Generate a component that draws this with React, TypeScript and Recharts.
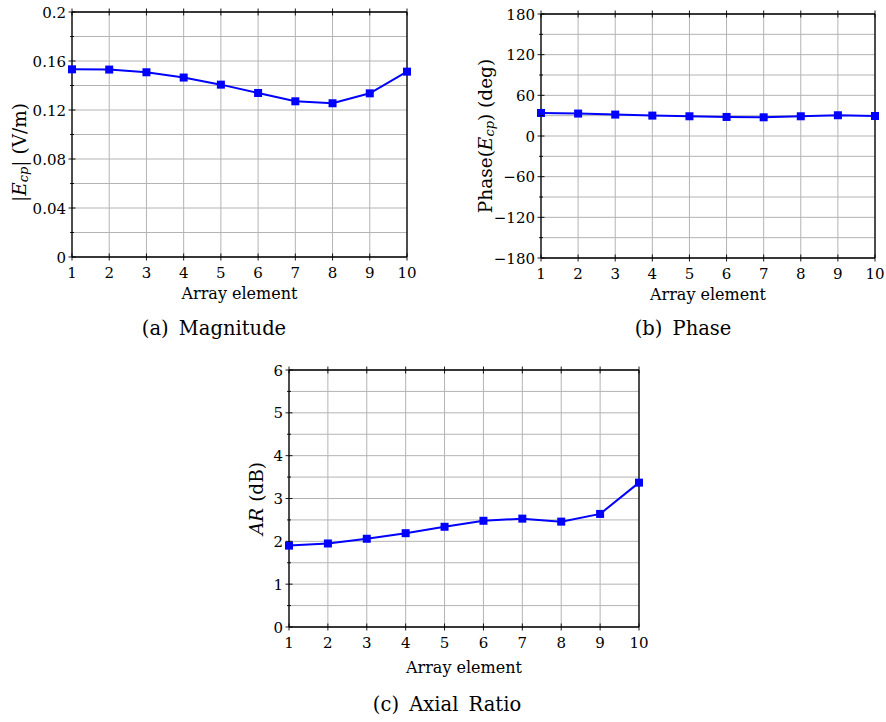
import React from 'react';
import { LineChart, Line, XAxis, YAxis, CartesianGrid } from 'recharts';

// ---------- data ----------
const elements = [1, 2, 3, 4, 5, 6, 7, 8, 9, 10];
const magnitude = [0.1532, 0.153, 0.1508, 0.1465, 0.1407, 0.1339, 0.1271, 0.1255, 0.1336, 0.1513];
const phase = [34.0, 33.1, 31.6, 30.1, 29.1, 28.1, 27.6, 29.1, 30.6, 29.5];
const axialRatio = [1.9, 1.95, 2.06, 2.19, 2.34, 2.48, 2.53, 2.46, 2.64, 3.37];

const magMajorTicks = [0, 0.04, 0.08, 0.12, 0.16, 0.2];
const magMinorTicks = [0.02, 0.06, 0.1, 0.14, 0.18];
const phaseMajorTicks = [-180, -120, -60, 0, 60, 120, 180];
const phaseMinorTicks = [-150, -90, -30, 30, 90, 150];
const arMajorTicks = [0, 1, 2, 3, 4, 5, 6];
const arMinorTicks = [0.5, 1.5, 2.5, 3.5, 4.5, 5.5];

const xAxisTitle = 'Array element';
const captions = ['(a) Magnitude', '(b) Phase', '(c) Axial Ratio'];

const tableData = elements.map((e, i) => ({
  element: e,
  magnitude: magnitude[i],
  phase: phase[i],
  axialRatio: axialRatio[i],
}));

// ---------- styling ----------
const FONT = "'DejaVu Serif', serif";
const BLUE = '#0000ff';
const GRID = '#b4b4b4';
const TICK_FS = 15;
const XLABEL_FS = 16;
const YLABEL_FS = 18.5;
const SUB_FS = 13;

const fmt = (v: number) => (v < 0 ? '\u2212' + String(Math.abs(v)) : String(v));
const isIn = (arr: number[], v: number) => arr.some((m) => Math.abs(m - v) < 1e-9);

const makeYTick = (majors: number[], withLabel: boolean) => (props: any) => {
  const { x, y, payload } = props;
  const v = payload.value;
  const major = isIn(majors, v);
  const len = major ? 3.5 : 2;
  return (
    <g>
      <line x1={x - len} x2={x + len} y1={y} y2={y} stroke="#000" strokeWidth={0.9} />
      {withLabel && major && (
        <text x={x - 6} y={y + 5.5} textAnchor="end" fontFamily={FONT} fontSize={TICK_FS} fill="#000">
          {fmt(v)}
        </text>
      )}
    </g>
  );
};

const makeXTick = (withLabel: boolean) => (props: any) => {
  const { x, y, payload } = props;
  return (
    <g>
      <line x1={x} x2={x} y1={y - 3.5} y2={y + 3.5} stroke="#000" strokeWidth={0.9} />
      {withLabel && (
        <text x={x} y={y + 21} textAnchor="middle" fontFamily={FONT} fontSize={TICK_FS} fill="#000">
          {fmt(payload.value)}
        </text>
      )}
    </g>
  );
};

const YLabel = (props: any) => {
  const { viewBox, dx, dy, children } = props;
  const cx = viewBox.x + viewBox.width + dx;
  const cy = viewBox.y + viewBox.height / 2 + dy;
  return (
    <text
      x={cx}
      y={cy}
      transform={`rotate(-90, ${cx}, ${cy})`}
      textAnchor="middle"
      dominantBaseline="central"
      fontFamily={FONT}
      fontSize={YLABEL_FS}
      fill="#000"
    >
      {children}
    </text>
  );
};

const XLabel = (props: any) => {
  const { viewBox, dy, children } = props;
  return (
    <text
      x={viewBox.x + viewBox.width / 2}
      y={viewBox.y + dy}
      textAnchor="middle"
      fontFamily={FONT}
      fontSize={XLABEL_FS}
      fill="#000"
    >
      {children}
    </text>
  );
};

const SquareDot = (p: any) => {
  if (p.cx == null || p.cy == null) return <g key={p.key} />;
  return <rect key={p.key} x={p.cx - 4} y={p.cy - 4} width={8} height={8} fill={BLUE} />;
};

const axisLine = { stroke: '#000', strokeWidth: 1.3 };

interface PanelProps {
  left: number;
  top: number;
  width: number;
  height: number;
  margin: { top: number; right: number; bottom: number; left: number };
  dataKey: string;
  domain: [number, number];
  majors: number[];
  minors: number[];
  yLabel: React.ReactNode;
  yLabelDx: number;
  yLabelDy: number;
  xLabelDy: number;
}

const Panel = (p: PanelProps) => {
  const yTicks = [...p.majors, ...p.minors].sort((a, b) => a - b);
  // axes occupy 1px each, so margins are reduced by 1
  const m = {
    top: p.margin.top - 1,
    right: p.margin.right - 1,
    bottom: p.margin.bottom - 1,
    left: p.margin.left - 1,
  };
  return (
    <div style={{ position: 'absolute', left: p.left, top: p.top }}>
      <LineChart width={p.width} height={p.height} data={tableData} margin={m}>
        <CartesianGrid xAxisId="b" yAxisId="l" stroke={GRID} strokeWidth={1} />
        <XAxis
          xAxisId="b"
          dataKey="element"
          type="number"
          domain={[1, 10]}
          ticks={elements}
          interval={0}
          height={1}
          tickSize={0}
          tickMargin={0}
          tickLine={false}
          axisLine={axisLine}
          tick={makeXTick(true)}
          label={<XLabel dy={p.xLabelDy}>{xAxisTitle}</XLabel>}
        />
        <XAxis
          xAxisId="t"
          orientation="top"
          dataKey="element"
          type="number"
          domain={[1, 10]}
          ticks={elements}
          interval={0}
          height={1}
          tickSize={0}
          tickMargin={0}
          tickLine={false}
          axisLine={axisLine}
          tick={makeXTick(false)}
        />
        <YAxis
          yAxisId="l"
          type="number"
          domain={p.domain}
          ticks={yTicks}
          interval={0}
          width={1}
          tickSize={0}
          tickMargin={0}
          tickLine={false}
          axisLine={axisLine}
          tick={makeYTick(p.majors, true)}
          label={
            <YLabel dx={p.yLabelDx} dy={p.yLabelDy}>
              {p.yLabel}
            </YLabel>
          }
        />
        <YAxis
          yAxisId="r"
          orientation="right"
          type="number"
          domain={p.domain}
          ticks={yTicks}
          interval={0}
          width={1}
          tickSize={0}
          tickMargin={0}
          tickLine={false}
          axisLine={axisLine}
          tick={makeYTick(p.majors, false)}
        />
        <Line
          xAxisId="b"
          yAxisId="l"
          type="linear"
          dataKey={p.dataKey}
          stroke={BLUE}
          strokeWidth={2}
          dot={SquareDot}
          activeDot={false}
          isAnimationActive={false}
        />
      </LineChart>
    </div>
  );
};

const it = (s: string) => <tspan fontStyle="italic">{s}</tspan>;

const magLabel = (
  <>
    <tspan>|</tspan>
    {it('E')}
    <tspan fontStyle="italic" fontSize={SUB_FS} dy={4}>cp</tspan>
    <tspan dy={-4}>|</tspan>
    <tspan> (V/m)</tspan>
  </>
);

const phaseLabel = (
  <>
    <tspan>Phase(</tspan>
    {it('E')}
    <tspan fontStyle="italic" fontSize={SUB_FS} dy={4}>cp</tspan>
    <tspan dy={-4}>) (deg)</tspan>
  </>
);

const arLabel = (
  <>
    {it('AR')}
    <tspan> (dB)</tspan>
  </>
);

const captionPos = [
  { x: 214, y: 335 },
  { x: 683, y: 335 },
  { x: 447, y: 711 },
];

export default function App() {
  return (
    <div style={{ position: 'absolute', left: 0, top: 0, width: 886, height: 722, background: '#fff' }}>
      <Panel
        left={0}
        top={0}
        width={430}
        height={320}
        margin={{ top: 12, right: 23, bottom: 63, left: 72 }}
        dataKey="magnitude"
        domain={[0, 0.2]}
        majors={magMajorTicks}
        minors={magMinorTicks}
        yLabel={magLabel}
        yLabelDx={-53}
        yLabelDy={18}
        xLabelDy={42}
      />
      <Panel
        left={440}
        top={0}
        width={446}
        height={320}
        margin={{ top: 14, right: 11, bottom: 62, left: 101 }}
        dataKey="phase"
        domain={[-180, 180]}
        majors={phaseMajorTicks}
        minors={phaseMinorTicks}
        yLabel={phaseLabel}
        yLabelDx={-56}
        yLabelDy={0}
        xLabelDy={42}
      />
      <Panel
        left={230}
        top={350}
        width={430}
        height={340}
        margin={{ top: 20, right: 21, bottom: 63, left: 59 }}
        dataKey="axialRatio"
        domain={[0, 6]}
        majors={arMajorTicks}
        minors={arMinorTicks}
        yLabel={arLabel}
        yLabelDx={-33}
        yLabelDy={0}
        xLabelDy={46}
      />
      <svg
        width={886}
        height={722}
        style={{ position: 'absolute', left: 0, top: 0, pointerEvents: 'none' }}
      >
        {captions.map((c, i) => (
          <text
            key={c}
            x={captionPos[i].x}
            y={captionPos[i].y}
            textAnchor="middle"
            fontFamily={FONT}
            fontSize={19.5}
            wordSpacing={4}
            fill="#000"
          >
            {c}
          </text>
        ))}
      </svg>
    </div>
  );
}
